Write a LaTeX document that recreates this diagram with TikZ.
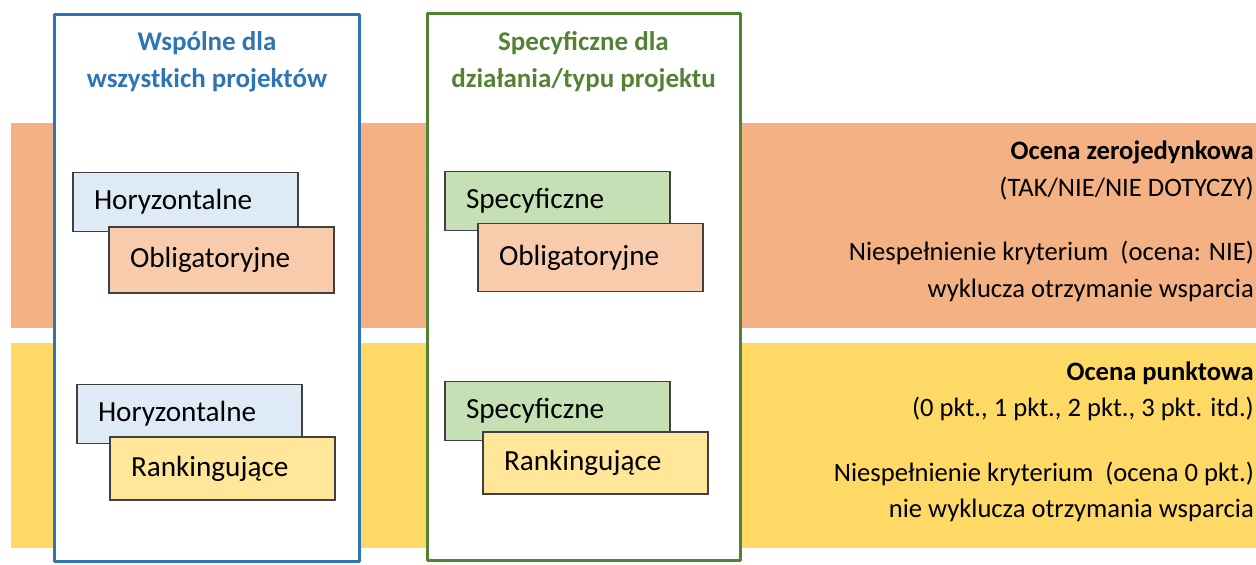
\documentclass[tikz,border=0pt]{standalone}
\usepackage{fontspec}
\setmainfont{Carlito}
\usepackage{xcolor}

\definecolor{ramkaniebieska}{HTML}{2E75B6}
\definecolor{ramkazielona}{HTML}{548235}
\definecolor{pasomaranczowy}{HTML}{F4B183}
\definecolor{pasozolty}{HTML}{FFD966}
\definecolor{polniebieskie}{HTML}{DEEBF7}
\definecolor{polpomaranczowe}{HTML}{F8CBAD}
\definecolor{polzielone}{HTML}{C5E0B4}
\definecolor{polzolte}{HTML}{FFE699}

\tikzset{
  kryterium/.style={draw=black!75, line width=1.5pt, minimum width=225pt, text width=183pt,
    inner xsep=21pt, inner ysep=0pt, align=left, font=\fontsize{29.2}{34}\selectfont},
  tytul/.style={align=center, inner sep=0pt, font=\bfseries\fontsize{27}{37}\selectfont},
  opis/.style={anchor=north east, align=right, inner sep=0pt, font=\fontsize{26.6}{36.5}\selectfont},
  ramka/.style={line width=3pt, line join=round, fill=white}
}

\begin{document}
\begin{tikzpicture}[x=1pt,y=-1pt]
    \useasboundingbox (0,0) rectangle (1256,565);

    % pasy ocen
    \fill[pasomaranczowy] (11,123) rectangle (1256,328);
    \fill[pasozolty] (11,343) rectangle (1256,548);

    % ramki kolumn
    \draw[ramka, draw=ramkaniebieska] (54.5,14.5) rectangle (359.5,561.5);
    \draw[ramka, draw=ramkazielona] (427.5,13.5) rectangle (740.5,560.5);

    \node[tytul, text=ramkaniebieska] (wspolne) at (207,62) {Wspólne dla\\wszystkich projektów};
    \node[tytul, text=ramkazielona] (specyficzne) at (583.5,62) {Specyficzne dla\\działania/typu projektu};

    % kryteria obligatoryjne
    \node[kryterium, fill=polniebieskie, minimum height=59pt] (hor1) at (185.5,202) {Horyzontalne};
    \node[kryterium, fill=polpomaranczowe, minimum height=66pt] (obl1) at (221.5,260) {Obligatoryjne};
    \node[kryterium, fill=polzielone, minimum height=59pt] (spec1) at (557.5,201) {Specyficzne};
    \node[kryterium, fill=polpomaranczowe, minimum height=68pt] (obl2) at (590.5,257.5) {Obligatoryjne};

    % kryteria rankingujace
    \node[kryterium, fill=polniebieskie, minimum height=59pt] (hor2) at (189.5,414) {Horyzontalne};
    \node[kryterium, fill=polzolte, minimum height=63pt] (rank1) at (222.5,468.5) {Rankingujące};
    \node[kryterium, fill=polzielone, minimum height=59pt] (spec2) at (557.5,411) {Specyficzne};
    \node[kryterium, fill=polzolte, minimum height=62pt] (rank2) at (595.5,463) {Rankingujące};

    % opisy ocen
    \node[opis] (zerojedynkowa) at (1254,141) {\textbf{Ocena zerojedynkowa}\\(TAK/NIE/NIE DOTYCZY)\\[28pt]Niespełnienie kryterium\ \ (ocena: NIE)\\wyklucza otrzymanie wsparcia};
    \node[opis] (punktowa) at (1254,361.5) {\textbf{Ocena punktowa}\\(0 pkt., 1 pkt., 2 pkt., 3 pkt. itd.)\\[28pt]Niespełnienie kryterium\ \ (ocena 0 pkt.)\\nie wyklucza otrzymania wsparcia};
\end{tikzpicture}
\end{document}
